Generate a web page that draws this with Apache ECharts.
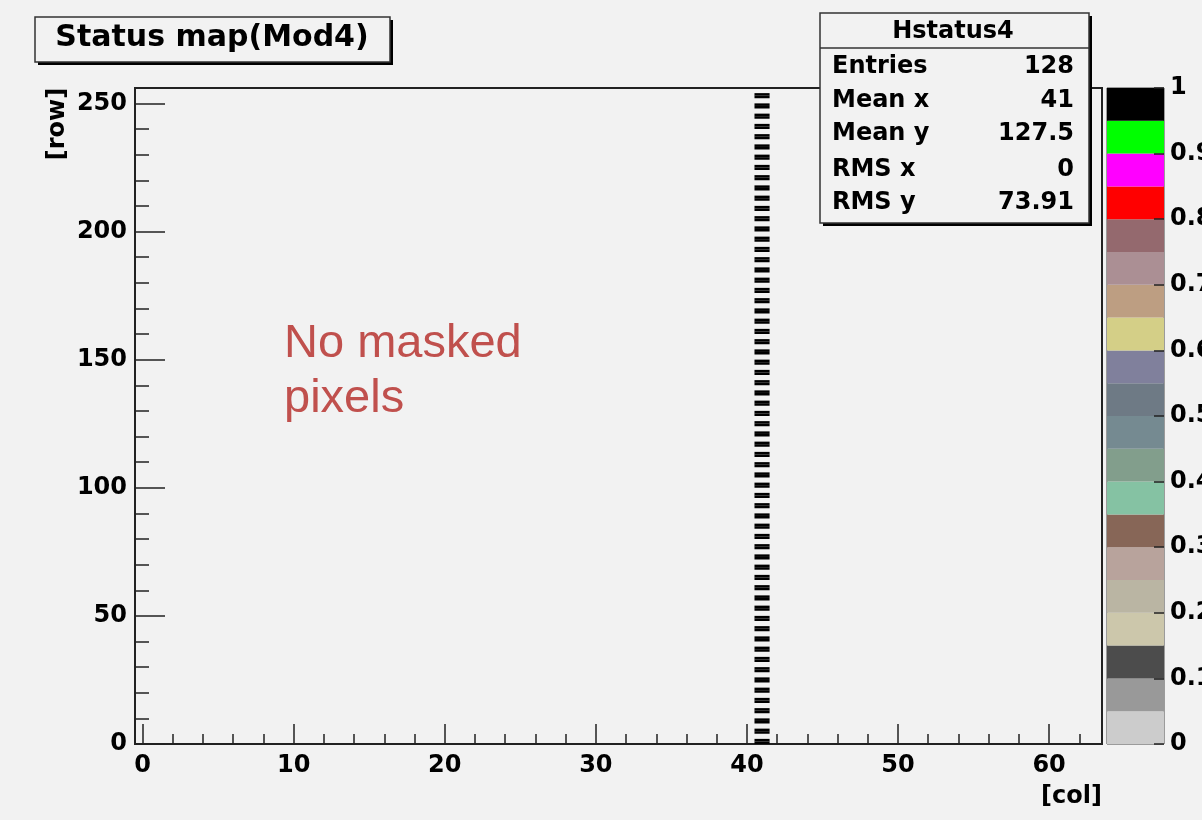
<!DOCTYPE html>
<html>
<head>
<meta charset="utf-8">
<script src="https://cdn.jsdelivr.net/npm/echarts@6/dist/echarts.min.js"></script>
<style>
  html, body { margin: 0; padding: 0; background: #f2f2f2; }
  #chart { width: 1202px; height: 820px; }
</style>
</head>
<body>
<div id="chart"></div>
<script>
// Status map of module 4: masked pixels (status value 1) per column/row.
const statusCol = 41;
const statusRows = [
  0, 1, 4, 5, 8, 9, 12, 13, 16, 17, 20, 21, 24, 25, 28, 29,
  32, 33, 36, 37, 40, 41, 44, 45, 48, 49, 52, 53, 56, 57, 60, 61,
  64, 65, 68, 69, 72, 73, 76, 77, 80, 81, 84, 85, 88, 89, 92, 93,
  96, 97, 100, 101, 104, 105, 108, 109, 112, 113, 116, 117, 120, 121, 124, 125,
  128, 129, 132, 133, 136, 137, 140, 141, 144, 145, 148, 149, 152, 153, 156, 157,
  160, 161, 164, 165, 168, 169, 172, 173, 176, 177, 180, 181, 184, 185, 188, 189,
  192, 193, 196, 197, 200, 201, 204, 205, 208, 209, 212, 213, 216, 217, 220, 221,
  224, 225, 228, 229, 232, 233, 236, 237, 240, 241, 244, 245, 248, 249, 252, 253
];
const statusValue = 1;

// Axis ranges and tick positions
const colRange = [-0.5, 63.5];
const rowRange = [0, 256];
const colMajorTicks = [0, 10, 20, 30, 40, 50, 60];
const colMinorTicks = [2, 4, 6, 8, 12, 14, 16, 18, 22, 24, 26, 28, 32, 34, 36, 38, 42, 44, 46, 48, 52, 54, 56, 58, 62];
const rowMajorTicks = [0, 50, 100, 150, 200, 250];
const rowMinorTicks = [10, 20, 30, 40, 60, 70, 80, 90, 110, 120, 130, 140, 160, 170, 180, 190, 210, 220, 230, 240];

// Colour scale: 20 levels from 0 to 1
const zLevels = [0, 0.05, 0.1, 0.15, 0.2, 0.25, 0.3, 0.35, 0.4, 0.45, 0.5,
                 0.55, 0.6, 0.65, 0.7, 0.75, 0.8, 0.85, 0.9, 0.95, 1];
const zTicks = [0, 0.1, 0.2, 0.3, 0.4, 0.5, 0.6, 0.7, 0.8, 0.9, 1];
const palette = [
  '#cccccc', '#999999', '#4c4c4c', '#ccc7ab', '#bab5a3',
  '#b8a39c', '#876657', '#85c2a3', '#829e8c', '#758a91',
  '#6e7a85', '#80809c', '#d4cf87', '#bd9e82', '#ab8f94',
  '#94696e', '#ff0000', '#ff00ff', '#00ff00', '#000000'
];

// Statistics box
const statsTitle = 'Hstatus4';
const statsLabels = ['Entries', 'Mean x', 'Mean y', 'RMS x', 'RMS y'];
const statsValues = ['128', '41', '127.5', '0', '73.91'];

const BG = '#f2f2f2';
const FRAME = '#222';
const FONT = '"DejaVu Sans", "Liberation Sans", sans-serif';
const axisText = { color: '#000', fontFamily: FONT, fontWeight: 'bold', fontSize: 24 };

const chart = echarts.init(document.getElementById('chart'), null, { renderer: 'canvas' });

const statusData = statusRows.map(r => [statusCol, r, statusValue]);
const scaleData = palette.map((c, i) => [zLevels[i], zLevels[i + 1], zLevels[i]]);

const pieces = palette.map((c, i) => (i === palette.length - 1
  ? { gte: zLevels[i], lte: zLevels[i + 1], color: c }
  : { gte: zLevels[i], lt: zLevels[i + 1], color: c }));

function tickAxis(base, ticks, len) {
  return Object.assign({
    type: 'value',
    axisLine: { show: false, onZero: false },
    splitLine: { show: false },
    axisTick: { show: true, inside: true, length: len, customValues: ticks,
                lineStyle: { color: FRAME, width: 1.5 } },
    axisLabel: { show: false }
  }, base);
}

const statsRowsY = [67, 100.5, 134, 170, 203];
const graphics = [
  // title box
  { type: 'rect', shape: { x: 38, y: 20, width: 355, height: 45 }, style: { fill: '#000' }, z: 100 },
  { type: 'rect', shape: { x: 35, y: 17, width: 355, height: 45 }, style: { fill: BG, stroke: '#333', lineWidth: 1.5 }, z: 101 },
  { type: 'text', x: 212, y: 38, z: 102,
    style: { text: 'Status map(Mod4)', font: 'bold 30px ' + FONT, fill: '#000', align: 'center', verticalAlign: 'middle' } },
  // statistics box
  { type: 'rect', shape: { x: 823, y: 16, width: 269, height: 210 }, style: { fill: '#000' }, z: 100 },
  { type: 'rect', shape: { x: 820, y: 13, width: 269, height: 210 }, style: { fill: BG, stroke: '#333', lineWidth: 1.5 }, z: 101 },
  { type: 'line', shape: { x1: 820, y1: 48, x2: 1089, y2: 48 }, style: { stroke: '#333', lineWidth: 1.5 }, z: 102 },
  { type: 'text', x: 953, y: 32, z: 102,
    style: { text: statsTitle, font: 'bold 24px ' + FONT, fill: '#000', align: 'center', verticalAlign: 'middle' } },
  // axis titles
  { type: 'text', x: 58, y: 124, rotation: Math.PI / 2, z: 102,
    style: { text: '[row]', font: 'bold 24px ' + FONT, fill: '#000', align: 'center', verticalAlign: 'middle' } },
  { type: 'text', x: 1102, y: 797, z: 102,
    style: { text: '[col]', font: 'bold 24px ' + FONT, fill: '#000', align: 'right', verticalAlign: 'middle' } },
  // annotation
  { type: 'text', x: 284, y: 344, z: 102,
    style: { text: 'No masked', font: '47px "Liberation Sans", Arial, sans-serif', fill: '#c0504d', align: 'left', verticalAlign: 'middle' } },
  { type: 'text', x: 284, y: 399, z: 102,
    style: { text: 'pixels', font: '47px "Liberation Sans", Arial, sans-serif', fill: '#c0504d', align: 'left', verticalAlign: 'middle' } }
];
statsLabels.forEach((lab, i) => {
  graphics.push({ type: 'text', x: 832, y: statsRowsY[i], z: 102,
    style: { text: lab, font: 'bold 24px ' + FONT, fill: '#000', align: 'left', verticalAlign: 'middle' } });
  graphics.push({ type: 'text', x: 1074, y: statsRowsY[i], z: 102,
    style: { text: statsValues[i], font: 'bold 24px ' + FONT, fill: '#000', align: 'right', verticalAlign: 'middle' } });
});

const option = {
  backgroundColor: BG,
  animation: false,
  grid: [
    { left: 135, top: 88, width: 967, height: 656, show: true, borderColor: FRAME, borderWidth: 2,
      backgroundColor: 'transparent', containLabel: false, outerBoundsMode: 'none' },
    { left: 1107, top: 88, width: 57, height: 656, show: true, borderColor: '#444', borderWidth: 1,
      backgroundColor: 'transparent', containLabel: false, outerBoundsMode: 'none' }
  ],
  xAxis: [
    tickAxis({ gridIndex: 0, min: colRange[0], max: colRange[1], position: 'bottom',
               axisLabel: Object.assign({ show: true, margin: 10, customValues: colMajorTicks }, axisText) },
             colMajorTicks, 20),
    tickAxis({ gridIndex: 0, min: colRange[0], max: colRange[1], position: 'bottom', offset: 0 }, colMinorTicks, 10),
    { gridIndex: 1, type: 'value', min: 0, max: 1, show: false }
  ],
  yAxis: [
    tickAxis({ gridIndex: 0, min: rowRange[0], max: rowRange[1], position: 'left',
               axisLabel: Object.assign({ show: true, margin: 8, customValues: rowMajorTicks }, axisText) },
             rowMajorTicks, 30),
    tickAxis({ gridIndex: 0, min: rowRange[0], max: rowRange[1], position: 'left', offset: 0 }, rowMinorTicks, 14),
    tickAxis({ gridIndex: 1, min: 0, max: 1, position: 'right', z: 10,
               axisLabel: Object.assign({ show: true, margin: 6, customValues: zTicks }, axisText) },
             zTicks, 10)
  ],
  visualMap: {
    type: 'piecewise', show: false, seriesIndex: 0, dimension: 2, pieces: pieces
  },
  series: [
    {
      type: 'custom', name: 'status', xAxisIndex: 0, yAxisIndex: 0, clip: true,
      data: statusData,
      renderItem: function (params, api) {
        const c = api.value(0), r = api.value(1);
        const p0 = api.coord([c - 0.5, r + 1]);
        const p1 = api.coord([c + 0.5, r]);
        return { type: 'rect',
                 shape: { x: p0[0], y: p0[1], width: p1[0] - p0[0], height: p1[1] - p0[1] },
                 style: { fill: api.visual('color') } };
      }
    },
    {
      type: 'custom', name: 'scale', xAxisIndex: 2, yAxisIndex: 2, silent: true, z: 1,
      data: scaleData,
      renderItem: function (params, api) {
        const lo = api.value(0), hi = api.value(1);
        const p0 = api.coord([0, hi]);
        const p1 = api.coord([1, lo]);
        return { type: 'rect',
                 shape: { x: p0[0], y: p0[1], width: p1[0] - p0[0], height: p1[1] - p0[1] },
                 style: { fill: palette[params.dataIndex] } };
      }
    }
  ],
  graphic: graphics
};

chart.setOption(option);
</script>
</body>
</html>
